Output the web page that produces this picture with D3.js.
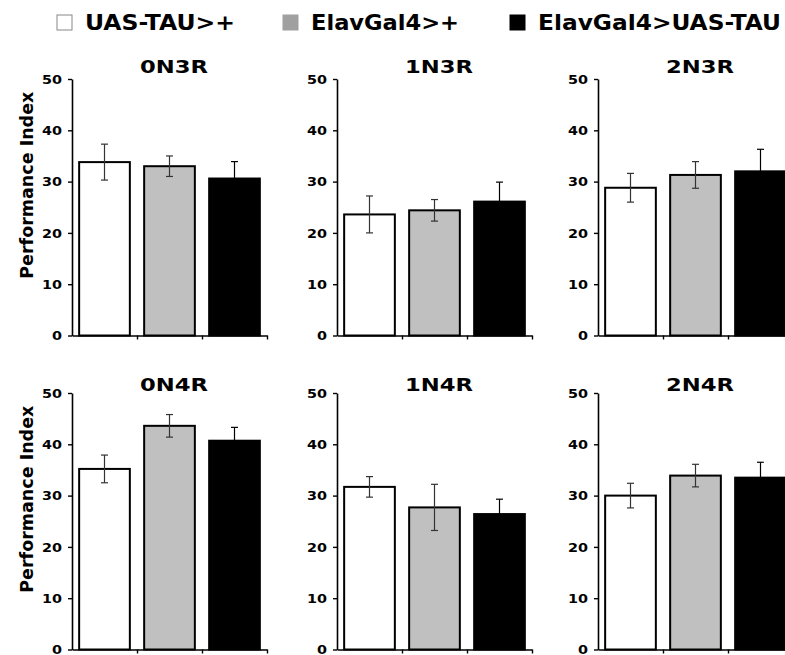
<!DOCTYPE html>
<html>
<head>
<meta charset="utf-8">
<script src="https://cdn.jsdelivr.net/npm/d3@7"></script>
<style>
  body { margin: 0; background: #fff; }
  svg { display: block; font-family: "DejaVu Sans", Verdana, sans-serif; font-weight: bold; }
</style>
</head>
<body>
<div class="root"></div>
<script>
// panel names, in reading order (top row 3R isoforms, bottom row 4R)
var isoforms = ["0N3R", "1N3R", "2N3R", "0N4R", "1N4R", "2N4R"];
var genotypes = ["UAS-TAU>+", "ElavGal4>+", "ElavGal4>UAS-TAU"];

// mean performance index per isoform
var uasTau   = [33.8, 23.6, 28.8, 35.2, 31.7, 30.0];
var elavGal4 = [33.0, 24.4, 31.3, 43.6, 27.7, 33.9];
var elavTau  = [30.6, 26.1, 32.0, 40.7, 26.4, 33.5];

// error bar half-lengths
var uasTauErr   = [3.5, 3.6, 2.8, 2.7, 2.0, 2.4];
var elavGal4Err = [2.0, 2.1, 2.6, 2.2, 4.5, 2.2];
var elavTauErr  = [3.3, 3.8, 4.3, 2.6, 2.9, 3.0];

var yTicks = [0, 10, 20, 30, 40, 50];

var width = 785, height = 655,
    colX = [72, 337, 598],
    rowTop = [79, 393],
    plotW = 195, plotH = 256.5,
    fills = ["#ffffff", "#c0c0c0", "#000000"],
    legendFills = ["#ffffff", "#a0a0a0", "#000000"];

var means = [uasTau, elavGal4, elavTau],
    errs = [uasTauErr, elavGal4Err, elavTauErr];

var svg = d3.select(".root")
  .append("svg")
  .attr("width", width)
  .attr("height", height);

svg.append("rect").attr("width", width).attr("height", height).attr("fill", "#fff");

// legend
var legendX = [57, 283, 510],
    legendW = [150, 148, 243];
var legend = svg.append("g").attr("class", "legend");
genotypes.forEach(function(g, i) {
  legend.append("rect")
    .attr("x", legendX[i]).attr("y", 15)
    .attr("width", 15).attr("height", 15)
    .attr("fill", legendFills[i])
    .attr("stroke", i === 0 ? "#888" : legendFills[i])
    .attr("stroke-width", 1);
  legend.append("text")
    .attr("x", legendX[i] + 28).attr("y", 30)
    .attr("font-size", 21)
    .attr("textLength", legendW[i])
    .attr("lengthAdjust", "spacingAndGlyphs")
    .attr("fill", "#000")
    .text(g);
});

var x = d3.scaleBand()
  .domain(d3.range(genotypes.length))
  .range([0, plotW])
  .paddingInner(0.22)
  .paddingOuter(0.11);

var xTicks = d3.scaleLinear().domain([0, 3]).range([0, plotW]);

var y = d3.scaleLinear().domain([0, 50]).range([plotH, 0]);

isoforms.forEach(function(name, p) {
  var col = p % 3, row = Math.floor(p / 3);
  var g = svg.append("g")
    .attr("transform", "translate(" + colX[col] + "," + rowTop[row] + ")");

  var rows = genotypes.map(function(gt, k) {
    return { k: k, v: means[k][p], e: errs[k][p] };
  });

  g.selectAll("rect.bar")
    .data(rows)
    .enter().append("rect")
      .attr("class", "bar")
      .attr("x", d => x(d.k))
      .attr("y", d => y(d.v))
      .attr("width", x.bandwidth())
      .attr("height", d => plotH - y(d.v))
      .attr("fill", d => fills[d.k])
      .attr("stroke", "#000")
      .attr("stroke-width", 2);

  var eb = g.selectAll("g.err")
    .data(rows)
    .enter().append("g")
      .attr("class", "err")
      .attr("stroke", d => d.k === 2 ? "#000" : "#333")
      .attr("stroke-width", 1.2);
  eb.append("line")
    .attr("x1", d => x(d.k) + x.bandwidth() / 2)
    .attr("x2", d => x(d.k) + x.bandwidth() / 2)
    .attr("y1", d => y(d.v + d.e))
    .attr("y2", d => y(d.v - d.e));
  eb.append("line")
    .attr("x1", d => x(d.k) + x.bandwidth() / 2 - 3.5)
    .attr("x2", d => x(d.k) + x.bandwidth() / 2 + 3.5)
    .attr("y1", d => y(d.v + d.e))
    .attr("y2", d => y(d.v + d.e));
  eb.append("line")
    .attr("x1", d => x(d.k) + x.bandwidth() / 2 - 3.5)
    .attr("x2", d => x(d.k) + x.bandwidth() / 2 + 3.5)
    .attr("y1", d => y(d.v - d.e))
    .attr("y2", d => y(d.v - d.e));

  // axes
  var ya = g.append("g")
    .call(d3.axisLeft(y).tickValues(yTicks).tickSize(4).tickSizeOuter(0).tickPadding(6));
  var xa = g.append("g")
    .attr("transform", "translate(0," + plotH + ")")
    .call(d3.axisBottom(xTicks).tickValues([1, 2, 3]).tickFormat("").tickSize(4).tickSizeOuter(0));

  [ya, xa].forEach(function(a) {
    a.select(".domain").attr("stroke", "#000").attr("stroke-width", 1.6);
    a.selectAll(".tick line").attr("stroke", "#000").attr("stroke-width", 1.4);
  });
  ya.selectAll(".tick text")
    .attr("font-size", 12)
    .attr("font-weight", "bold")
    .attr("font-family", "DejaVu Sans, sans-serif")
    .attr("fill", "#000")
    .attr("dy", "0.36em")
    .attr("textLength", d => d === 0 ? 10 : 20)
    .attr("lengthAdjust", "spacingAndGlyphs");

  g.append("text")
    .attr("x", 102)
    .attr("y", row === 0 ? -6 : -2)
    .attr("text-anchor", "middle")
    .attr("font-size", 18)
    .attr("textLength", 68)
    .attr("lengthAdjust", "spacingAndGlyphs")
    .attr("fill", "#000")
    .text(name);

  if (col === 0) {
    g.append("text")
      .attr("transform", "translate(-39," + (plotH / 2 - 22) + ") rotate(-90)")
      .attr("text-anchor", "middle")
      .attr("font-size", 17.5)
      .attr("fill", "#000")
      .text("Performance Index");
  }
});
</script>
</body>
</html>
